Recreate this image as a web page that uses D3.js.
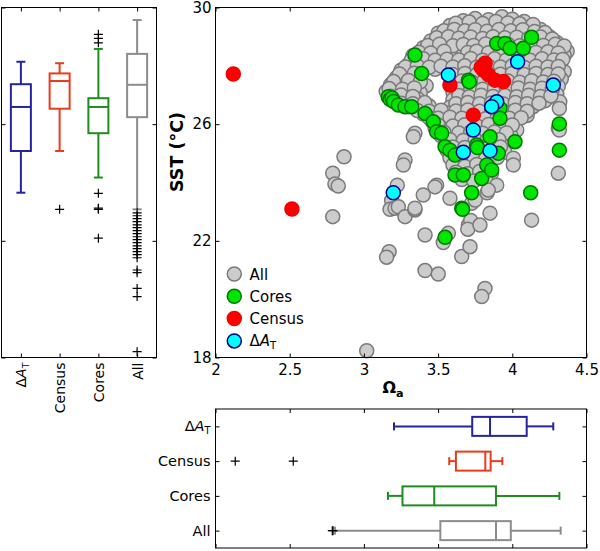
<!DOCTYPE html>
<html>
<head>
<meta charset="utf-8">
<script src="https://cdn.jsdelivr.net/npm/d3@7"></script>
<style>
  body { margin: 0; background: #fff; }
  svg { display: block; font-family: 'DejaVu Sans', sans-serif; }
</style>
</head>
<body>
<svg id="chart" width="600" height="551"></svg>
<script>
// --------------------------------------------------------------
// Data

const groups = ['dAT', 'Census', 'Cores', 'All']

// SST box stats per group: [low whisker, q1, median, q3, high whisker]
const sstBox = [
  [23.65, 25.08, 26.59, 27.37, 28.14],
  [25.08, 26.53, 27.48, 27.74, 28.09],
  [24.17, 25.69, 26.59, 26.89, 28.58],
  [23.08, 26.24, 27.35, 28.41, 29.57],
]
const sstOutliers = [
  [],
  [23.08],
  [29.08, 28.94, 28.79, 23.63, 23.12, 23.08, 22.09],
  [22.96, 22.86, 22.76, 22.66, 22.55, 22.45, 22.35, 22.25, 22.14, 22.04,
    21.94, 21.83, 21.73, 21.63, 21.53, 21.42, 21.0, 20.91, 20.37, 20.09, 18.2],
]

// Omega box stats per group
const omegaBox = [
  [3.203, 3.73, 3.85, 4.097, 4.276],
  [3.575, 3.62, 3.818, 3.854, 3.933],
  [3.162, 3.26, 3.474, 3.89, 4.317],
  [2.805, 3.515, 3.89, 3.99, 4.326],
]
const omegaOutliers = [[], [2.133, 2.524], [], [2.787, 2.792]]

// scatter: [omega, sst]
const allPoints = [
  [3.67, 29.55], [3.75, 29.62], [3.84, 29.58], [3.93, 29.68], [4.0, 29.6], [4.08, 29.52],
  [3.58, 29.38], [3.65, 29.32], [3.72, 29.4], [3.8, 29.35], [3.88, 29.42], [3.96, 29.3], [4.04, 29.37], [4.12, 29.33], [4.19, 29.25],
  [3.5, 29.12], [3.56, 29.05], [3.63, 29.15], [3.7, 29.08], [3.78, 29.12], [3.86, 29.05], [3.94, 29.14], [4.02, 29.08], [4.1, 29.12], [4.17, 29.02], [4.25, 29.0],
  [3.45, 28.85], [3.53, 28.8], [3.6, 28.9], [3.67, 28.82], [3.75, 28.88], [3.83, 28.84], [3.9, 28.9], [3.98, 28.82], [4.06, 28.88], [4.14, 28.84], [4.22, 28.88], [4.3, 28.8],
  [3.4, 28.62], [3.47, 28.55], [3.56, 28.64], [3.63, 28.58], [3.7, 28.62], [3.78, 28.56], [3.86, 28.63], [3.93, 28.58], [4.01, 28.64], [4.09, 28.57], [4.17, 28.62], [4.25, 28.58], [4.33, 28.66], [4.37, 28.5],
  [3.33, 28.35], [3.41, 28.4], [3.5, 28.32], [3.58, 28.38], [3.72, 28.35], [3.8, 28.4], [3.88, 28.33], [3.96, 28.38], [4.04, 28.32], [4.12, 28.4], [4.2, 28.35], [4.28, 28.3], [4.35, 28.36],
  [3.3, 28.05], [3.36, 28.12], [3.44, 28.08], [3.52, 28.14], [3.6, 28.06], [3.68, 28.12], [3.76, 28.08], [3.84, 28.14], [3.92, 28.06], [4.0, 28.12], [4.08, 28.06], [4.16, 28.12], [4.24, 28.08], [4.32, 28.1],
  [3.25, 27.85], [3.32, 27.9], [3.4, 27.82], [3.48, 27.88], [3.56, 27.84], [3.64, 27.9], [3.72, 27.84], [3.8, 27.88], [3.88, 27.82], [3.96, 27.9], [4.04, 27.84], [4.12, 27.88], [4.2, 27.82], [4.28, 27.86], [4.35, 27.8],
  [3.22, 27.6], [3.3, 27.55], [3.38, 27.62], [3.62, 27.58], [3.7, 27.64], [3.78, 27.56], [3.86, 27.62], [3.94, 27.58], [4.02, 27.64], [4.1, 27.56], [4.18, 27.62], [4.26, 27.58], [4.33, 27.55],
  [3.18, 27.35], [3.26, 27.3], [3.34, 27.38], [3.42, 27.32], [3.62, 27.36], [3.69, 27.3], [3.77, 27.38], [3.85, 27.32], [3.93, 27.36], [4.01, 27.3], [4.09, 27.38], [4.17, 27.32], [4.25, 27.36], [4.31, 27.3],
  [3.15, 27.12], [3.22, 27.06], [3.3, 27.14], [3.38, 27.08], [3.6, 27.1], [3.68, 27.06], [3.76, 27.14], [3.84, 27.08], [3.92, 27.12], [4.0, 27.06], [4.08, 27.14], [4.16, 27.08], [4.24, 27.1], [4.3, 27.02],
  [3.2, 26.85], [3.28, 26.8], [3.36, 26.88], [3.6, 26.84], [3.67, 26.9], [3.75, 26.82], [3.83, 26.88], [3.91, 26.84], [3.99, 26.9], [4.07, 26.82], [4.15, 26.86], [4.22, 26.8], [4.32, 26.77],
  [3.3, 26.6], [3.38, 26.55], [3.44, 26.62], [3.58, 26.58], [3.66, 26.64], [3.74, 26.56], [3.82, 26.62], [3.9, 26.58], [3.98, 26.64], [4.06, 26.56], [4.14, 26.6], [4.317, 26.54],
  [3.4, 26.35], [3.48, 26.3], [3.56, 26.38], [3.64, 26.32], [3.72, 26.36], [3.8, 26.3], [3.88, 26.38], [3.96, 26.32], [4.04, 26.36], [4.1, 26.3],
  [3.46, 26.1], [3.54, 26.05], [3.62, 26.12], [3.7, 26.06], [3.78, 26.1], [3.86, 26.04], [3.94, 26.12], [4.02, 26.06], [4.31, 25.86],
  [3.48, 25.85], [3.56, 25.8], [3.64, 25.88], [3.72, 25.82], [3.8, 25.86], [3.88, 25.8], [3.96, 25.88], [4.03, 25.8], [4.317, 25.8],
  [3.52, 25.6], [3.6, 25.55], [3.68, 25.62], [3.76, 25.56], [3.84, 25.6], [3.92, 25.54], [3.99, 25.62],
  [3.55, 25.35], [3.63, 25.3], [3.71, 25.38], [3.79, 25.32], [3.87, 25.36], [3.95, 25.3],
  [3.56, 25.1], [3.64, 25.05], [3.72, 25.12], [3.8, 25.06], [3.88, 25.1], [3.95, 25.04],
  [3.58, 24.85], [3.66, 24.8], [3.74, 24.88], [3.82, 24.82], [3.9, 24.86], [4.007, 24.83],
  [3.6, 24.6], [3.68, 24.55], [3.76, 24.62], [3.84, 24.56], [4.007, 24.6],
  [3.62, 24.35], [3.7, 24.3], [3.78, 24.38], [3.86, 24.32], [4.31, 24.32],
  [3.66, 24.1], [3.74, 24.05], [3.82, 24.12],
  // denser middle layer of the cloud
  [3.62, 29.46], [3.71, 29.5], [3.8, 29.45], [3.89, 29.52], [3.97, 29.47], [4.05, 29.44], [4.14, 29.42],
  [3.54, 29.2], [3.61, 29.25], [3.68, 29.2], [3.75, 29.24], [3.83, 29.19], [3.91, 29.25], [3.99, 29.2], [4.07, 29.24], [4.15, 29.18], [4.22, 29.14],
  [3.49, 28.96], [3.57, 29.0], [3.64, 28.95], [3.72, 28.99], [3.8, 28.94], [3.87, 29.0], [3.95, 28.96], [4.03, 28.98], [4.11, 28.94], [4.19, 28.99], [4.27, 28.92],
  [3.43, 28.7], [3.51, 28.74], [3.6, 28.69], [3.67, 28.73], [3.74, 28.7], [3.82, 28.75], [3.9, 28.7], [3.97, 28.74], [4.05, 28.69], [4.13, 28.73], [4.21, 28.7], [4.29, 28.74], [4.35, 28.68],
  [3.37, 28.47], [3.45, 28.44], [3.54, 28.5], [3.7, 28.46], [3.76, 28.5], [3.84, 28.45], [3.92, 28.49], [4.0, 28.44], [4.08, 28.5], [4.16, 28.46], [4.24, 28.48], [4.31, 28.44],
  [3.32, 28.2], [3.4, 28.24], [3.48, 28.19], [3.56, 28.23], [3.64, 28.2], [3.72, 28.25], [3.8, 28.19], [3.88, 28.24], [3.96, 28.2], [4.04, 28.23], [4.12, 28.19], [4.2, 28.24], [4.28, 28.2], [4.34, 28.22],
  [3.28, 27.96], [3.36, 28.0], [3.44, 27.95], [3.52, 27.99], [3.6, 27.96], [3.68, 28.0], [3.76, 27.95], [3.84, 27.99], [3.92, 27.96], [4.0, 28.0], [4.08, 27.95], [4.16, 27.99], [4.24, 27.96], [4.31, 27.98],
  [3.24, 27.72], [3.34, 27.75], [3.6, 27.7], [3.68, 27.74], [3.76, 27.7], [3.84, 27.75], [3.92, 27.71], [4.0, 27.74], [4.08, 27.7], [4.16, 27.74], [4.24, 27.7], [4.31, 27.72],
  [3.2, 27.46], [3.3, 27.5], [3.38, 27.45], [3.66, 27.48], [3.73, 27.44], [3.81, 27.49], [3.89, 27.45], [3.97, 27.48], [4.05, 27.44], [4.13, 27.49], [4.21, 27.45], [4.28, 27.47],
  [3.17, 27.22], [3.26, 27.2], [3.34, 27.24], [3.64, 27.2], [3.72, 27.24], [3.8, 27.2], [3.88, 27.23], [3.96, 27.19], [4.04, 27.24], [4.12, 27.2], [4.2, 27.23], [4.27, 27.19],
  [3.18, 26.96], [3.25, 27.0], [3.33, 26.95], [3.64, 26.98], [3.71, 26.94], [3.79, 26.99], [3.87, 26.95], [3.95, 26.98], [4.03, 26.94], [4.11, 26.99], [4.19, 26.95], [4.26, 26.97],
  [3.25, 26.72], [3.33, 26.7], [3.41, 26.74], [3.62, 26.7], [3.7, 26.74], [3.78, 26.7], [3.86, 26.73], [3.94, 26.69], [4.02, 26.74], [4.1, 26.7], [4.18, 26.72],
  [3.36, 26.47], [3.44, 26.44], [3.52, 26.48], [3.62, 26.45], [3.7, 26.49], [3.78, 26.44], [3.86, 26.48], [3.94, 26.45], [4.02, 26.48], [4.1, 26.44],
  [3.44, 26.22], [3.5, 26.2], [3.58, 26.24], [3.66, 26.2], [3.74, 26.23], [3.82, 26.19], [3.9, 26.24], [3.98, 26.2], [4.06, 26.22],
  [3.5, 25.97], [3.6, 25.94], [3.68, 25.98], [3.76, 25.95], [3.84, 25.99], [3.92, 25.94], [4.0, 25.97],
  [3.54, 25.72], [3.64, 25.7], [3.72, 25.74], [3.8, 25.69], [3.88, 25.73], [3.96, 25.7],
  [3.58, 25.47], [3.67, 25.44], [3.75, 25.48], [3.83, 25.45], [3.91, 25.47],
  [3.6, 25.22], [3.68, 25.2], [3.76, 25.24], [3.84, 25.2], [3.92, 25.22],
  // scattered points outside the main cloud
  [3.344, 25.69], [3.333, 25.57], [3.277, 24.77], [3.266, 24.6],
  [2.866, 24.88], [2.79, 24.32], [2.805, 23.95], [2.827, 23.88], [2.79, 22.83],
  [3.225, 23.91], [3.187, 23.38], [3.176, 23.08], [3.21, 23.12], [3.232, 23.17], [3.277, 22.83],
  [3.49, 23.91], [3.4, 23.57], [3.344, 23.06], [3.344, 23.12], [3.58, 23.46], [3.479, 23.85],
  [3.412, 22.2], [3.569, 22.26], [3.535, 21.94], [3.17, 21.63], [3.153, 21.44],
  [3.704, 22.54], [3.72, 22.7], [3.7, 22.4], [3.659, 21.46], [3.715, 21.8],
  [3.412, 20.98], [3.501, 20.86], [3.816, 20.37], [3.794, 20.09], [3.019, 18.23],
  [3.85, 22.95], [3.782, 22.54], [4.13, 22.71], [3.726, 23.29], [3.75, 23.4], [3.83, 23.65],
  [3.895, 23.91], [3.838, 23.74],
]

const coresPoints = [
  [3.344, 28.37], [3.389, 27.74], [3.164, 26.94], [3.176, 26.85], [3.19, 26.9], [3.2, 26.78],
  [3.232, 26.66], [3.277, 26.6], [3.322, 26.6], [3.412, 26.37], [3.468, 26.08], [3.49, 25.74],
  [3.524, 25.69], [3.547, 25.23], [3.58, 25.11], [3.614, 24.94], [3.614, 24.26], [3.67, 24.26],
  [3.794, 24.14], [3.726, 23.65], [3.659, 23.12], [3.665, 23.08], [3.547, 22.12],
  [3.704, 27.51], [3.71, 27.45], [3.895, 28.77], [3.951, 28.77], [3.985, 28.6], [4.074, 28.6],
  [4.13, 28.98], [3.917, 26.54], [3.917, 26.2], [3.85, 25.57], [4.018, 25.4], [3.906, 25.0],
  [3.828, 24.6], [3.861, 24.43], [3.76, 25.29], [3.765, 25.2], [4.317, 26.01], [4.317, 25.11],
  [4.124, 23.65],
]

const censusPoints = [
  [2.12, 27.72], [2.515, 23.09], [3.817, 28.09], [3.805, 27.86], [3.84, 27.69],
  [3.883, 27.51], [3.94, 27.46], [3.58, 27.34], [3.737, 26.31], [3.79, 27.95],
]

const deltaPoints = [
  [3.569, 27.69], [4.036, 28.14], [4.276, 27.34], [3.895, 26.77], [3.861, 26.6],
  [3.737, 25.8], [3.67, 25.04], [3.85, 25.09], [3.198, 23.65],
]

const boxColors = ['#2424a0', '#e83c1c', '#1f8c1f', '#8c8c8c']
const dotFill = ['#cccccc', '#00e600', '#ff0000', '#00ffff']
const dotStroke = ['#7a7a7a', '#007800', '#f00000', '#000090']
const legendNames = ['All', 'Cores', 'Census', 'dAT']

const xTicks = [2, 2.5, 3, 3.5, 4, 4.5]
const yTicks = [18, 22, 26, 30]

// --------------------------------------------------------------
// Layout

const svg = d3.select('#chart')
svg.append('rect').attr('width', 600).attr('height', 551).attr('fill', '#fff')

const main = { left: 215.5, right: 586.5, top: 7.5, bottom: 357.5 }
const side = { left: 1.5, right: 156.5, top: 7.5, bottom: 357.5 }
const low = { left: 215.5, right: 586.5, top: 409, bottom: 548 }

const x = d3.scaleLinear().domain([2, 4.5]).range([main.left, main.right])
const y = d3.scaleLinear().domain([18, 30]).range([main.bottom, main.top])
const sideX = d3.scalePoint().domain(groups).range([side.left, side.right]).padding(0.5)
const lowY = d3.scalePoint().domain(groups).range([low.top, low.bottom]).padding(0.5)

// label like "ΔA_T" with italic A and subscript T
function groupLabel(sel, name) {
  if (name === 'dAT') {
    sel.append('tspan').text('Δ')
    sel.append('tspan').attr('font-style', 'italic').text('A')
    sel.append('tspan').attr('font-size', '0.68em').attr('dy', '0.3em').text('T')
  } else {
    sel.text(name)
  }
}

function frame(box) {
  svg.append('rect')
    .attr('x', box.left).attr('y', box.top)
    .attr('width', box.right - box.left).attr('height', box.bottom - box.top)
    .attr('fill', 'none').attr('stroke', '#000').attr('stroke-width', 1)
}

function axisAt(axis, tx, ty, withLabels) {
  const g = svg.append('g').attr('transform', `translate(${tx},${ty})`).call(axis)
  g.select('.domain').remove()
  g.selectAll('.tick line').attr('stroke', '#000').attr('stroke-width', 1)
  g.selectAll('text')
    .attr('font-family', "'DejaVu Sans', sans-serif")
    .attr('font-size', 15)
    .attr('fill', '#000')
  if (!withLabels) g.selectAll('text').remove()
  return g
}

// --------------------------------------------------------------
// Main scatter

const dotLayers = [allPoints, coresPoints, censusPoints, deltaPoints]
dotLayers.forEach((pts, i) => {
  svg.append('g')
    .selectAll('circle')
    .data(pts)
    .join('circle')
    .attr('cx', (d) => x(d[0]))
    .attr('cy', (d) => y(d[1]))
    .attr('r', 7)
    .attr('fill', dotFill[i])
    .attr('stroke', dotStroke[i])
    .attr('stroke-width', 1.5)
})

frame(main)
axisAt(d3.axisBottom(x).tickValues(xTicks).tickSize(-4).tickPadding(7).tickFormat(d3.format('')), 0, main.bottom, true)
axisAt(d3.axisTop(x).tickValues(xTicks).tickSize(-4), 0, main.top, false)
axisAt(d3.axisLeft(y).tickValues(yTicks).tickSize(-4).tickPadding(4), main.left, 0, true)
axisAt(d3.axisRight(y).tickValues(yTicks).tickSize(-4), main.right, 0, false)

// axis titles
const omegaLabel = svg.append('text')
  .attr('x', 393).attr('y', 393)
  .attr('text-anchor', 'middle')
  .attr('font-size', 16).attr('font-weight', 'bold')
omegaLabel.append('tspan').text('Ω')
omegaLabel.append('tspan').attr('font-size', '0.7em').attr('dy', '0.35em').text('a')

svg.append('text')
  .attr('transform', 'translate(183,152) rotate(-90)')
  .attr('text-anchor', 'middle')
  .attr('font-size', 17.5).attr('font-weight', 'bold')
  .text('SST (°C)')

// legend
const legend = svg.append('g')
legendNames.forEach((name, i) => {
  const ly = 274 + i * 22.3
  legend.append('circle')
    .attr('cx', 234.3).attr('cy', ly).attr('r', 7)
    .attr('fill', dotFill[i]).attr('stroke', dotStroke[i]).attr('stroke-width', 1.5)
  const t = legend.append('text')
    .attr('x', 249.5).attr('y', ly + 5.5)
    .attr('font-size', 15)
  groupLabel(t, name)
})

// --------------------------------------------------------------
// Box plots

function plus(g, cx, cy) {
  g.append('path')
    .attr('d', `M${cx - 4.5},${cy}H${cx + 4.5}M${cx},${cy - 4.5}V${cy + 4.5}`)
    .attr('stroke', '#000').attr('stroke-width', 1.2).attr('fill', 'none')
}

// vertical boxes (SST)
groups.forEach((name, i) => {
  const g = svg.append('g').attr('stroke', boxColors[i]).attr('stroke-width', 2).attr('fill', 'none')
  const cx = sideX(name)
  const [lo, q1, med, q3, hi] = sstBox[i]
  g.append('line').attr('x1', cx).attr('x2', cx).attr('y1', y(lo)).attr('y2', y(q1))
  g.append('line').attr('x1', cx).attr('x2', cx).attr('y1', y(q3)).attr('y2', y(hi))
  g.append('line').attr('x1', cx - 4.5).attr('x2', cx + 4.5).attr('y1', y(lo)).attr('y2', y(lo))
  g.append('line').attr('x1', cx - 4.5).attr('x2', cx + 4.5).attr('y1', y(hi)).attr('y2', y(hi))
  g.append('rect').attr('x', cx - 10).attr('width', 20).attr('y', y(q3)).attr('height', y(q1) - y(q3))
  g.append('line').attr('x1', cx - 10).attr('x2', cx + 10).attr('y1', y(med)).attr('y2', y(med))
  sstOutliers[i].forEach((v) => plus(svg, cx, y(v)))
})

frame(side)
axisAt(d3.axisBottom(sideX).tickSize(-4), 0, side.bottom, false)
axisAt(d3.axisTop(sideX).tickSize(-4), 0, side.top, false)
axisAt(d3.axisLeft(y).tickValues(yTicks).tickSize(-4), side.left, 0, false)
axisAt(d3.axisRight(y).tickValues(yTicks).tickSize(-4), side.right, 0, false)

groups.forEach((name) => {
  const t = svg.append('text')
    .attr('transform', `translate(${sideX(name) + 5.5},${side.bottom + 5}) rotate(-90)`)
    .attr('text-anchor', 'end')
    .attr('font-size', 14)
  groupLabel(t, name)
})

// horizontal boxes (Omega)
groups.forEach((name, i) => {
  const g = svg.append('g').attr('stroke', boxColors[i]).attr('stroke-width', 2).attr('fill', 'none')
  const cy = lowY(name)
  const [lo, q1, med, q3, hi] = omegaBox[i]
  g.append('line').attr('y1', cy).attr('y2', cy).attr('x1', x(lo)).attr('x2', x(q1))
  g.append('line').attr('y1', cy).attr('y2', cy).attr('x1', x(q3)).attr('x2', x(hi))
  g.append('line').attr('y1', cy - 4).attr('y2', cy + 4).attr('x1', x(lo)).attr('x2', x(lo))
  g.append('line').attr('y1', cy - 4).attr('y2', cy + 4).attr('x1', x(hi)).attr('x2', x(hi))
  g.append('rect').attr('y', cy - 9.5).attr('height', 19).attr('x', x(q1)).attr('width', x(q3) - x(q1))
  g.append('line').attr('y1', cy - 9.5).attr('y2', cy + 9.5).attr('x1', x(med)).attr('x2', x(med))
  omegaOutliers[i].forEach((v) => plus(svg, x(v), cy))
})

frame(low)
axisAt(d3.axisBottom(x).tickValues(xTicks).tickSize(-4), 0, low.bottom, false)
axisAt(d3.axisTop(x).tickValues(xTicks).tickSize(-4), 0, low.top, false)
axisAt(d3.axisLeft(lowY).tickSize(-4), low.left, 0, false)
axisAt(d3.axisRight(lowY).tickSize(-4), low.right, 0, false)

groups.forEach((name) => {
  const t = svg.append('text')
    .attr('x', low.left - 5).attr('y', lowY(name) + 5)
    .attr('text-anchor', 'end')
    .attr('font-size', 14.5)
  groupLabel(t, name)
})
</script>
</body>
</html>
